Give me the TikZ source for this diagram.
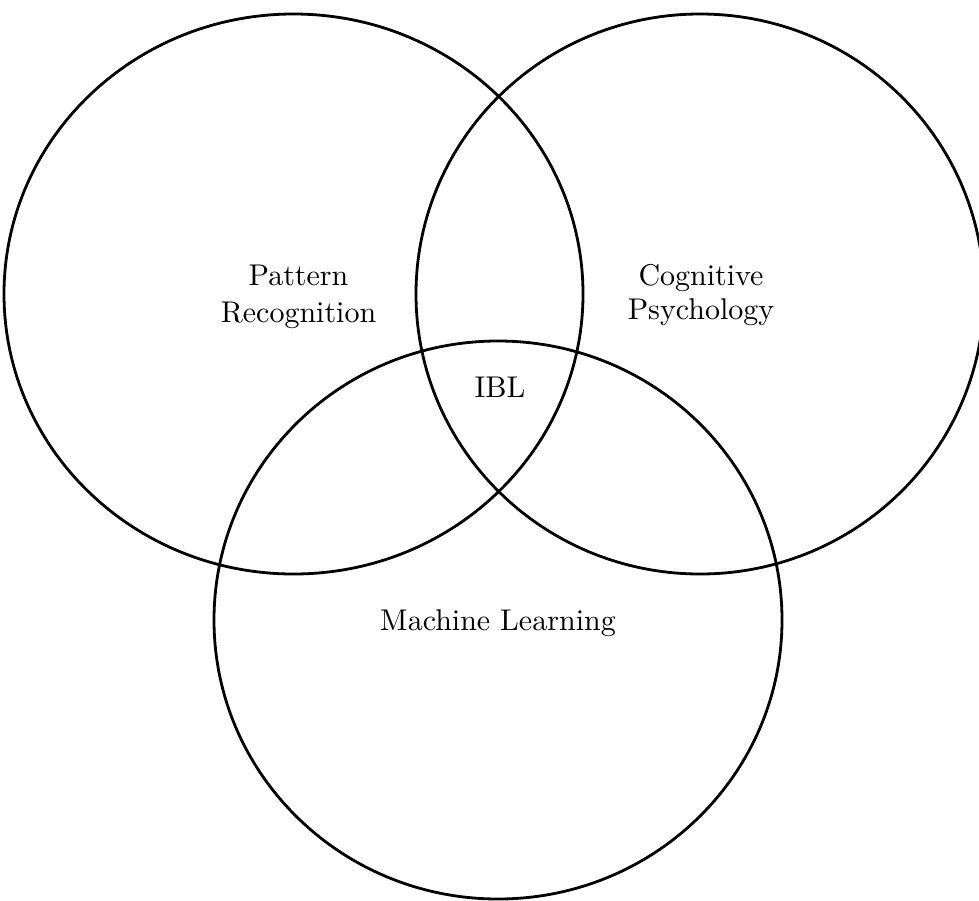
\documentclass[tikz,border=0pt]{standalone}
\usepackage{fontspec}
\setmainfont{lmroman10-regular}[Extension=.otf]
\usetikzlibrary{shapes.geometric}

\tikzset{
  field/.style={draw, line width=2.8pt, ellipse, inner sep=0pt},
  lbl/.style={anchor=base, inner sep=0pt, font=\fontsize{30}{36}\selectfont}
}

\begin{document}
\begin{tikzpicture}[x=1pt, y=-1pt]
  \useasboundingbox (0,0) rectangle (979,900);

  % the three overlapping fields
  \node[field, minimum width=579pt, minimum height=560pt] (pr) at (293.5,294) {};
  \node[field, minimum width=568pt, minimum height=560pt] (cp) at (700,294) {};
  \node[field, minimum width=568pt, minimum height=558pt] (ml) at (498,620) {};

  % field names
  \node[lbl] (pr1) at (298.5,285) {Pattern};
  \node[lbl] (pr2) at (298.5,322) {Recognition};
  \node[lbl] (cp1) at (701,285) {Cognitive};
  \node[lbl] (cp2) at (701,319) {Psychology};
  \node[lbl] (ml1) at (498,630) {Machine Learning};

  % common region
  \node[lbl] (ibl) at (500,397) {IBL};
\end{tikzpicture}
\end{document}
